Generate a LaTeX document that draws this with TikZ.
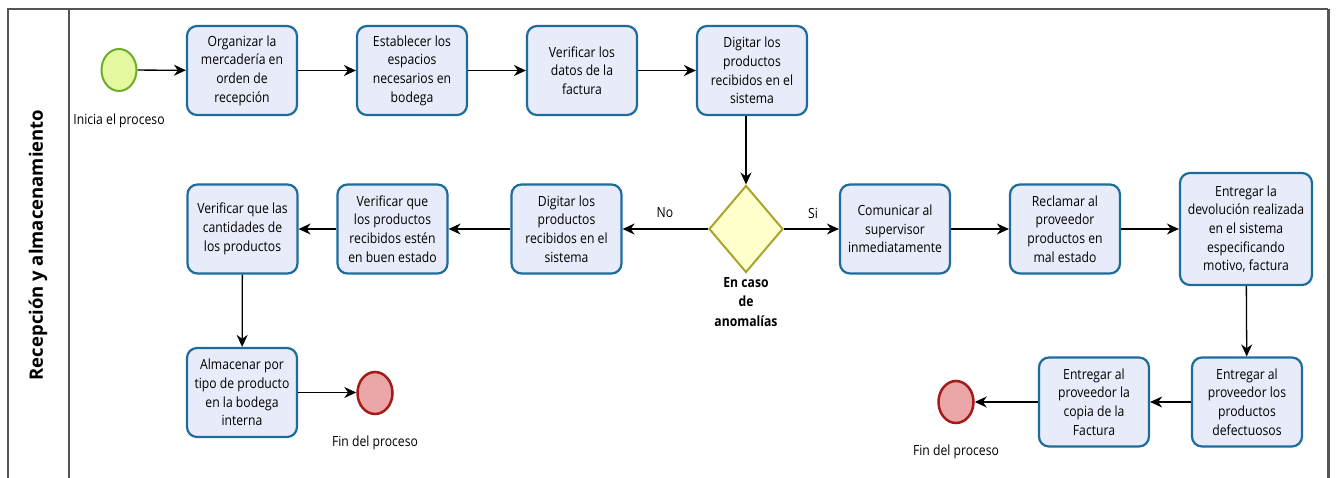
\documentclass[tikz,border=0pt]{standalone}
\usepackage{fontspec}
\setmainfont{Open Sans}[FakeStretch=0.87]
\newfontfamily\lanefont{Open Sans}
\usetikzlibrary{shapes.geometric,arrows.meta}
\definecolor{boxfill}{HTML}{E8ECFA}
\definecolor{boxdraw}{HTML}{1E6C9C}
\definecolor{startfill}{HTML}{E4F8A0}
\definecolor{startdraw}{HTML}{6AAE2A}
\definecolor{endfill}{HTML}{EBA7A7}
\definecolor{enddraw}{HTML}{A31B1B}
\definecolor{gwfill}{HTML}{FFFFCC}
\definecolor{gwdraw}{HTML}{A8A52A}
\definecolor{lanedraw}{HTML}{555555}
\tikzset{
  task/.style={draw=boxdraw, fill=boxfill, line width=2.2pt, rounded corners=10pt,
    minimum width=110pt, minimum height=89pt, inner sep=0pt, align=center,
    font=\fontsize{14}{18.7}\selectfont},
  startev/.style={ellipse, draw=startdraw, fill=startfill, line width=2pt,
    minimum width=35pt, minimum height=42pt, inner sep=0pt},
  endev/.style={ellipse, draw=enddraw, fill=endfill, line width=2.5pt,
    minimum width=35pt, minimum height=42pt, inner sep=0pt},
  gateway/.style={diamond, draw=gwdraw, fill=gwfill, line width=2pt,
    minimum width=74pt, minimum height=87pt, inner sep=0pt, aspect=0.85},
  lbl/.style={align=center, font=\fontsize{14}{18.7}\selectfont, inner sep=0pt},
  arr/.style={-{Stealth[length=12pt,width=11pt]}, line width=1.3pt, black},
}
\begin{document}
\begin{tikzpicture}[x=1pt,y=-1pt]
\useasboundingbox (0,0) rectangle (1336,478);
\fill[white] (0,0) rectangle (1336,478);
% pool / lane frame
\draw[lanedraw, line width=1.5pt] (8,478) -- (8,9) -- (1328,9);
\draw[lanedraw, line width=3pt] (1328,9) -- (1328,478);
\draw[lanedraw, line width=1.5pt] (69,9) -- (69,478);
\node[rotate=90, font=\lanefont\bfseries\fontsize{18.5}{20}\selectfont] (lane) at (38,245) {Recepción y almacenamiento};

% events
\node[startev] (s) at (119,70) {};
\node[lbl] (slbl) at (119,121) {Inicia el proceso};
\node[endev] (e1) at (375,393) {};
\node[lbl] (e1lbl) at (375,443) {Fin del proceso};
\node[endev] (e2) at (956,402) {};
\node[lbl] (e2lbl) at (956,452) {Fin del proceso};

% row 1
\node[task] (b1) at (242,70.5) {Organizar la\\mercadería en\\orden de\\recepción};
\node[task] (b2) at (412,70.5) {Establecer los\\espacios\\necesarios en\\bodega};
\node[task] (b3) at (582,70.5) {Verificar los\\datos de la\\factura};
\node[task] (b4) at (752,70.5) {Digitar los\\productos\\recibidos en el\\sistema};

% gateway
\node[gateway] (g) at (746,229) {};
\node[lbl, font=\bfseries\fontsize{14}{19.5}\selectfont] (glbl) at (746,302) {En caso\\de\\anomalías};
\node[lbl] (no) at (665,213) {No};
\node[lbl] (si) at (813,213) {Si};

% row 2 left
\node[task] (b5) at (566.5,229) {Digitar los\\productos\\recibidos en el\\sistema};
\node[task] (b6) at (392.5,229) {Verificar que\\los productos\\recibidos estén\\en buen estado};
\node[task] (b7) at (242.5,229) {Verificar que las\\cantidades de\\los productos};
\node[task] (b8) at (242,392.5) {Almacenar por\\tipo de producto\\en la bodega\\interna};

% row 2 right
\node[task] (b9) at (895,229) {Comunicar al\\supervisor\\inmediatamente};
\node[task] (b10) at (1065,229) {Reclamar al\\proveedor\\productos en\\mal estado};
\node[task, minimum width=132pt, minimum height=112pt] (b11) at (1246,229) {Entregar la\\devolución realizada\\en el sistema\\especificando\\motivo, factura};
\node[task] (b12) at (1247,402) {Entregar al\\proveedor los\\productos\\defectuosos};
\node[task] (b13) at (1094,402) {Entregar al\\proveedor la\\copia de la\\Factura};

% connectors
\draw[arr] (s) -- (b1);
\draw[arr] (b1) -- (b2);
\draw[arr] (b2) -- (b3);
\draw[arr] (b3) -- (b4);
\draw[arr] (b4.south -| g.north) -- (g.north);
\draw[arr] (g) -- (b5);
\draw[arr] (b5) -- (b6);
\draw[arr] (b6) -- (b7);
\draw[arr] (b7) -- (b8);
\draw[arr] (b8) -- (b8.east -| e1.west);
\draw[arr] (g) -- (b9);
\draw[arr] (b9) -- (b10);
\draw[arr] (b10) -- (b11);
\draw[arr] (b11) -- (b12);
\draw[arr] (b12) -- (b13);
\draw[arr] (b13) -- (e2);
\end{tikzpicture}
\end{document}
